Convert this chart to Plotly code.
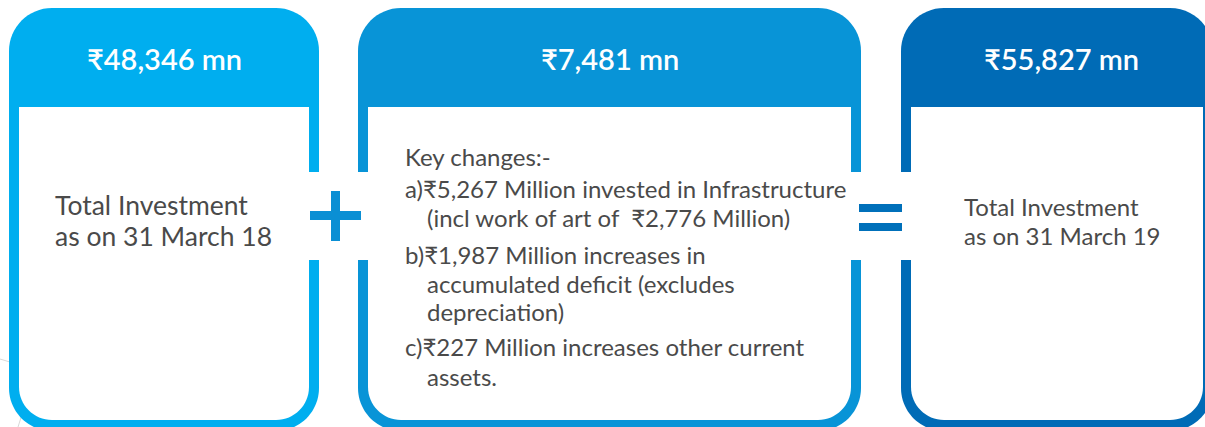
import plotly.graph_objects as go

# ---- data ----
header_values = [48346, 7481, 55827]
header_unit = "mn"
box_colors = ["#00AEEF", "#0894D7", "#006BB6"]
left_lines = ["Total Investment", "as on 31 March 18"]
right_lines = ["Total Investment", "as on 31 March 19"]
key_title = "Key changes:-"
key_labels = ["a)", "b)", "c)"]
key_items = [
    ["₹5,267 Million invested in Infrastructure", "(incl work of art of  ₹2,776 Million)"],
    ["₹1,987 Million increases in", "accumulated deficit (excludes", "depreciation)"],
    ["₹227 Million increases other current", "assets."],
]

W, H = 1205, 427
FONT = "Lato, 'Open Sans', sans-serif"
TXT = "#4a4a4a"

# box geometry (outer x0, x1)
boxes = [(9, 319), (358, 861), (901, 1213)]
TOP, BOT = 8, 431
HEADER_BOTTOM = 107
BORDER = 10
R_OUT, R_IN = 43, 33
K = 0.5523


def rounded_path(x0, y0, x1, y1, rtl, rtr, rbr, rbl):
    p = [f"M{x0 + rtl},{y0}", f"L{x1 - rtr},{y0}"]
    if rtr:
        p.append(f"C{x1 - rtr + K * rtr},{y0} {x1},{y0 + rtr - K * rtr} {x1},{y0 + rtr}")
    p.append(f"L{x1},{y1 - rbr}")
    if rbr:
        p.append(f"C{x1},{y1 - rbr + K * rbr} {x1 - rbr + K * rbr},{y1} {x1 - rbr},{y1}")
    p.append(f"L{x0 + rbl},{y1}")
    if rbl:
        p.append(f"C{x0 + rbl - K * rbl},{y1} {x0},{y1 - rbl + K * rbl} {x0},{y1 - rbl}")
    p.append(f"L{x0},{y0 + rtl}")
    if rtl:
        p.append(f"C{x0},{y0 + rtl - K * rtl} {x0 + rtl - K * rtl},{y0} {x0 + rtl},{y0}")
    p.append("Z")
    return " ".join(p)


shapes = []
annotations = []

# faint decorative lines at left
shapes.append(dict(type="path", path="M0,359 L36,370 L18,427",
                   line=dict(color="#d8d8d8", width=1), fillcolor="rgba(0,0,0,0)", layer="below"))

for (x0, x1), col, val in zip(boxes, box_colors, header_values):
    shapes.append(dict(type="path", path=rounded_path(x0, TOP, x1, BOT, R_OUT, R_OUT, R_OUT, R_OUT),
                       fillcolor=col, line=dict(width=0)))
    shapes.append(dict(type="path",
                       path=rounded_path(x0 + BORDER, HEADER_BOTTOM, x1 - BORDER, BOT - BORDER - 1, 0, 0, R_IN, R_IN),
                       fillcolor="white", line=dict(width=0)))
    cx = (x0 + x1) / 2 if x1 <= W else 1061
    annotations.append(dict(x=cx, y=58,
                            text=f"₹{val:,} {header_unit}", showarrow=False,
                            xanchor="center", yanchor="middle",
                            font=dict(family=FONT, size=29, color="white", weight=600)))

# white gaps in the borders behind the operator signs
for gx0, gx1 in [(302, 372), (846, 916)]:
    shapes.append(dict(type="rect", x0=gx0, x1=gx1, y0=172, y1=260, fillcolor="white", line=dict(width=0)))

# plus sign
pc = "#0A8FD4"
shapes.append(dict(type="rect", x0=310, x1=361, y0=211, y1=220, fillcolor=pc, line=dict(width=0)))
shapes.append(dict(type="rect", x0=331, x1=340, y0=191, y1=241, fillcolor=pc, line=dict(width=0)))
# equals sign
ec = "#0070BA"
shapes.append(dict(type="rect", x0=859, x1=902, y0=204, y1=212, fillcolor=ec, line=dict(width=0)))
shapes.append(dict(type="rect", x0=859, x1=902, y0=223, y1=231, fillcolor=ec, line=dict(width=0)))

# left box text
for txt, y in zip(left_lines, [205, 236]):
    annotations.append(dict(x=53, y=y, text=txt, showarrow=False, xanchor="left", yanchor="middle",
                            font=dict(family=FONT, size=26.5, color=TXT)))
# right box text
for txt, y in zip(right_lines, [206, 235]):
    annotations.append(dict(x=962, y=y, text=txt, showarrow=False, xanchor="left", yanchor="middle",
                            font=dict(family=FONT, size=24, color=TXT)))

# middle box text
annotations.append(dict(x=403, y=156, text=key_title, showarrow=False, xanchor="left", yanchor="middle",
                        font=dict(family=FONT, size=24, color=TXT)))
item_y = [[188, 217], [254, 283, 311], [346, 376]]
for lab, lines, ys in zip(key_labels, key_items, item_y):
    for i, (txt, y) in enumerate(zip(lines, ys)):
        if i == 0:
            annotations.append(dict(x=403, y=y, text=lab + txt, showarrow=False, xanchor="left",
                                    yanchor="middle", font=dict(family=FONT, size=24, color=TXT)))
        else:
            annotations.append(dict(x=425, y=y, text=txt, showarrow=False, xanchor="left",
                                    yanchor="middle", font=dict(family=FONT, size=24, color=TXT)))

fig = go.Figure()
fig.update_layout(
    width=W, height=H,
    margin=dict(l=0, r=0, t=0, b=0),
    paper_bgcolor="white", plot_bgcolor="white",
    xaxis=dict(range=[0, W], visible=False, fixedrange=True),
    yaxis=dict(range=[H, 0], visible=False, fixedrange=True),
    shapes=shapes, annotations=annotations, showlegend=False,
)
fig.write_html("out.html", config={"displayModeBar": False},
               post_script="document.body.style.margin='0';document.body.style.overflow='hidden';")
